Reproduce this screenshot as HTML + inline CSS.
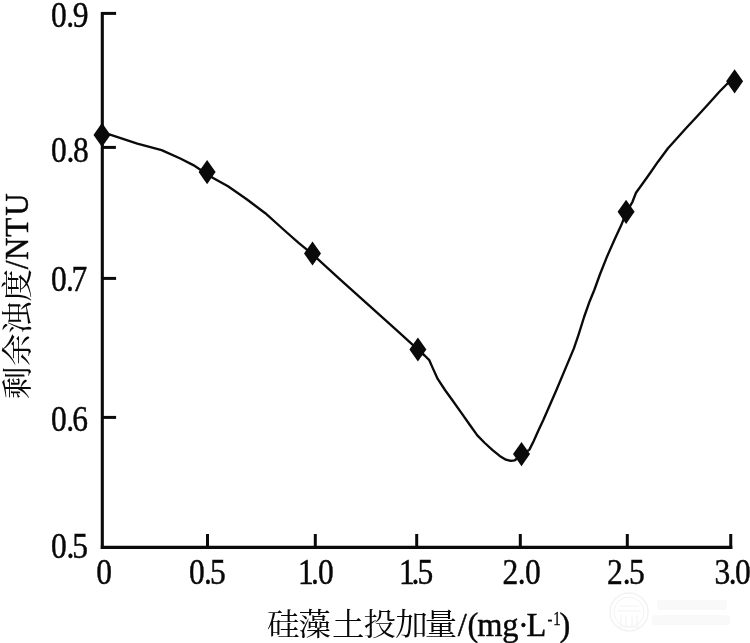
<!DOCTYPE html>
<html lang="zh">
<head>
<meta charset="utf-8">
<title>硅藻土投加量对剩余浊度的影响</title>
<style>
html,body{margin:0;padding:0;background:#fff;}
body{width:750px;height:643px;overflow:hidden;}
svg{display:block;}
.lat{font-family:"Liberation Serif","Noto Serif CJK SC",serif;fill:#080808;stroke:#080808;stroke-width:0.45;}
.cjk{font-family:"Liberation Serif","Noto Serif CJK SC",serif;fill:#080808;}
</style>
</head>
<body>
<svg width="750" height="643" viewBox="0 0 750 643">
<rect width="750" height="643" fill="#fff"/>
<!-- faint watermark emblem -->
<g fill="none" stroke="#f3f3f3" stroke-width="1.6">
  <circle cx="629" cy="612" r="19"/>
  <circle cx="629" cy="612" r="15" stroke-width="1"/>
  <path d="M617 611 H641 M619 606 H639 M621 615 V626 M626 615 V626 M632 615 V626 M637 615 V626 M618 627 H640" stroke-width="1.2"/>
</g>
<g fill="#f9f9f9">
  <rect x="657" y="600" width="70" height="10" rx="2"/>
  <rect x="652" y="615" width="78" height="10" rx="2"/>
</g>
<!-- axes -->
<g stroke="#0a0a0a" stroke-width="3.1" fill="none" stroke-linecap="butt">
  <path d="M102.3 11.9 V548.9"/>
  <path d="M100.8 547.35 H732.3"/>
</g>
<g stroke="#0a0a0a" stroke-width="3" fill="none" stroke-linecap="butt">
  <!-- y ticks -->
  <path d="M102 13.4 H116.1"/>
  <path d="M102 147.4 H115.9"/>
  <path d="M102 278.4 H116.1"/>
  <path d="M102 417.4 H116.1"/>
  <!-- x ticks -->
  <path d="M207.5 534 V548"/>
  <path d="M315.3 534 V548"/>
  <path d="M416.7 534 V548"/>
  <path d="M520.3 534 V548"/>
  <path d="M627.3 534 V548"/>
  <path d="M730.75 534 V548.9"/>
</g>
<!-- curve -->
<path id="curve" fill="none" stroke="#0a0a0a" stroke-width="2.35" stroke-linejoin="round" stroke-linecap="round"
 d="M102.0 134.5 L109.3 134.4 L137.3 143.6 L161.6 150.1 L180.3 158.5 L193.3 165.1 L200.8 169.9 L207.0 174.0 L213.1 177.9 L228.0 186.3 L246.7 199.2 L265.3 213.2 L284.0 230.0 L298.9 243.1 L312.4 254.2 L340.0 279.3 L396.0 329.7 L418.0 349.6 L424.6 355.5 L429.3 360.2 L433.0 368.6 L437.7 378.9 L445.0 390.0 L452.4 400.2 L461.2 412.6 L469.9 425.0 L477.3 435.4 L484.8 443.0 L492.3 449.8 L499.7 455.9 L505.9 459.7 L510.9 460.9 L514.7 460.3 L521.5 455.5 L529.4 449.6 L533.6 441.2 L538.4 430.4 L543.2 420.2 L547.7 410.0 L556.1 390.8 L565.5 368.4 L573.9 348.4 L578.5 334.8 L584.1 317.0 L589.7 301.2 L594.3 290.0 L599.9 274.5 L607.3 255.9 L614.8 239.1 L621.3 225.1 L626.0 213.0 L632.5 201.8 L636.0 192.8 L642.5 183.8 L650.0 173.2 L658.0 161.7 L668.0 148.2 L675.0 140.5 L686.0 128.3 L697.2 116.2 L708.4 104.0 L719.6 91.5 L727.5 83.5 L734.6 81.4"/>
<!-- markers -->
<g fill="#0a0a0a">
  <path d="M102.0 122.8 l8.5 12.1 -8.5 12.1 -8.5 -12.1z"/>
  <path d="M207.1 160.0 l8.5 12.1 -8.5 12.1 -8.5 -12.1z"/>
  <path d="M312.5 241.4 l8.5 12.1 -8.5 12.1 -8.5 -12.1z"/>
  <path d="M417.9 337.4 l8.5 12.1 -8.5 12.1 -8.5 -12.1z"/>
  <path d="M521.5 442.0 l8.5 12.1 -8.5 12.1 -8.5 -12.1z"/>
  <path d="M626.1 199.7 l8.5 12.1 -8.5 12.1 -8.5 -12.1z"/>
  <path d="M734.6 69.2 l8.5 12.1 -8.5 12.1 -8.5 -12.1z"/>
</g>
<!-- y tick labels -->
<g class="lat" font-size="35">
  <text transform="translate(0 26.6) scale(0.9 1)" x="56.56 73.56 80.78" y="0">0.9</text>
  <text transform="translate(0 162.1) scale(0.9 1)" x="56.56 74.00 81.00" y="0">0.8</text>
  <text transform="translate(0 290.6) scale(0.9 1)" x="56.56 73.33 79.56" y="0">0.7</text>
  <text transform="translate(0 430.5) scale(0.9 1)" x="56.56 73.56 80.34" y="0">0.6</text>
  <text transform="translate(0 558.2) scale(0.9 1)" x="56.56 73.77 80.34" y="0">0.5</text>
</g>
<!-- x tick labels -->
<g class="lat" font-size="35">
  <text transform="translate(0 583.5) scale(0.9 1)" x="106.94" y="0">0</text>
  <text transform="translate(0 583.5) scale(0.9 1)" x="209.89 226.78 233.22" y="0">0.5</text>
  <text transform="translate(0 583.5) scale(0.9 1)" x="331.22 345.55 353.44" y="0">1.0</text>
  <text transform="translate(0 583.5) scale(0.9 1)" x="443.23 457.11 463.88" y="0">1.5</text>
  <text transform="translate(0 583.5) scale(0.9 1)" x="558.34 575.34 583.44" y="0">2.0</text>
  <text transform="translate(0 583.5) scale(0.9 1)" x="674.55 692.00 699.00" y="0">2.5</text>
  <text transform="translate(0 583.5) scale(0.9 1)" x="793.78 809.67 816.66" y="0">3.0</text>
</g>
<!-- x title -->
<text class="cjk" font-size="30.5" transform="translate(0 635.3) scale(1.065 1)" x="250.80 280.38 311.83 341.22 371.17 398.87" y="0">硅藻土投加量</text>
<text class="lat" font-size="34.5" transform="translate(0 635.8) scale(0.94 1)" x="487.02 497.45 507.77 534.26 551.06 560.11" y="0">/(mg·L</text>
<text class="lat" font-size="18" transform="translate(0 624.8) scale(0.82 1)" x="667.56 674.63" y="0" style="stroke-width:0.3">-1</text>
<text class="lat" font-size="34.5" transform="translate(0 635.8) scale(0.94 1)" x="595.21" y="0">)</text>
<!-- y title -->
<g transform="translate(28.3 398) rotate(-90)">
  <text class="cjk" font-size="30.5" transform="scale(1.065 1)" x="-0.94 30.05 60.09 90.61" y="0">剩余浊度</text>
  <text class="lat" font-size="34.5" transform="scale(0.9 1)" x="143 153.4 179.2 202.6" y="0">/NTU</text>
</g>
</svg>
</body>
</html>
